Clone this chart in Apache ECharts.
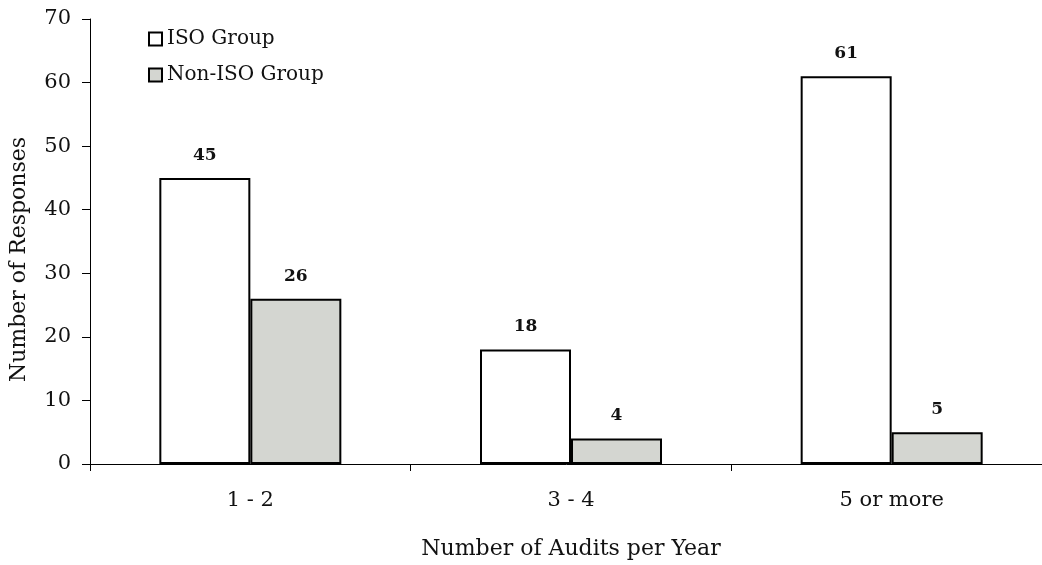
<!DOCTYPE html>
<html>
<head>
<meta charset="utf-8">
<script src="https://cdn.jsdelivr.net/npm/echarts@6/dist/echarts.min.js"></script>
<style>
  html, body { margin: 0; padding: 0; background: #fff; }
  #chart { width: 1042px; height: 565px; }
</style>
</head>
<body>
<div id="chart"></div>
<script>
// Audit frequency by group
const categories = ['1 - 2', '3 - 4', '5 or more'];
const isoGroup = [45, 18, 61];
const nonIsoGroup = [26, 4, 5];
const yTicks = { min: 0, max: 70, interval: 10 };

const FONT = '"DejaVu Serif", serif';

const chart = echarts.init(document.getElementById('chart'), null, { renderer: 'canvas' });

const barLabel = {
  show: true,
  position: 'top',
  distance: 14,
  fontFamily: FONT,
  fontWeight: 'bold',
  fontSize: 17,
  color: '#111'
};

chart.setOption({
  animation: false,
  backgroundColor: '#fff',
  grid: {
    left: 90,
    top: 19,
    width: 962,
    height: 445,
    outerBoundsMode: 'none'
  },
  legend: {
    orient: 'vertical',
    left: 148,
    top: 29,
    padding: 0,
    itemWidth: 13,
    itemHeight: 13,
    itemGap: 16,
    itemTextGap: 6,
    icon: 'rect',
    textStyle: { fontFamily: FONT, fontSize: 20, color: '#111' },
    data: ['ISO Group', 'Non-ISO Group']
  },
  xAxis: {
    type: 'category',
    data: categories,
    name: 'Number of Audits per Year',
    nameLocation: 'middle',
    nameGap: 74,
    nameTextStyle: { fontFamily: FONT, fontSize: 22, color: '#111' },
    axisLine: { lineStyle: { color: '#000', width: 1 } },
    axisTick: { show: true, length: 7, lineStyle: { color: '#000' } },
    axisLabel: { fontFamily: FONT, fontSize: 21, color: '#111', margin: 26 }
  },
  yAxis: {
    type: 'value',
    min: yTicks.min,
    max: yTicks.max,
    interval: yTicks.interval,
    name: 'Number of Responses',
    nameLocation: 'middle',
    nameGap: 60,
    nameRotate: 90,
    nameTextStyle: { fontFamily: FONT, fontSize: 22, color: '#111', padding: [0, 36, 0, 0] },
    axisLine: { show: true, lineStyle: { color: '#000', width: 1 } },
    axisTick: { show: true, length: 8, lineStyle: { color: '#000' } },
    splitLine: { show: false },
    axisLabel: { fontFamily: FONT, fontSize: 21, color: '#111', margin: 19 }
  },
  series: [
    {
      name: 'ISO Group',
      type: 'bar',
      data: isoGroup,
      barWidth: 91,
      barGap: '0%',
      itemStyle: { color: '#ffffff', borderColor: '#000', borderWidth: 2 },
      label: barLabel
    },
    {
      name: 'Non-ISO Group',
      type: 'bar',
      data: nonIsoGroup,
      barWidth: 91,
      barGap: '0%',
      itemStyle: { color: '#d4d6d1', borderColor: '#000', borderWidth: 2 },
      label: barLabel
    }
  ]
});
</script>
</body>
</html>
